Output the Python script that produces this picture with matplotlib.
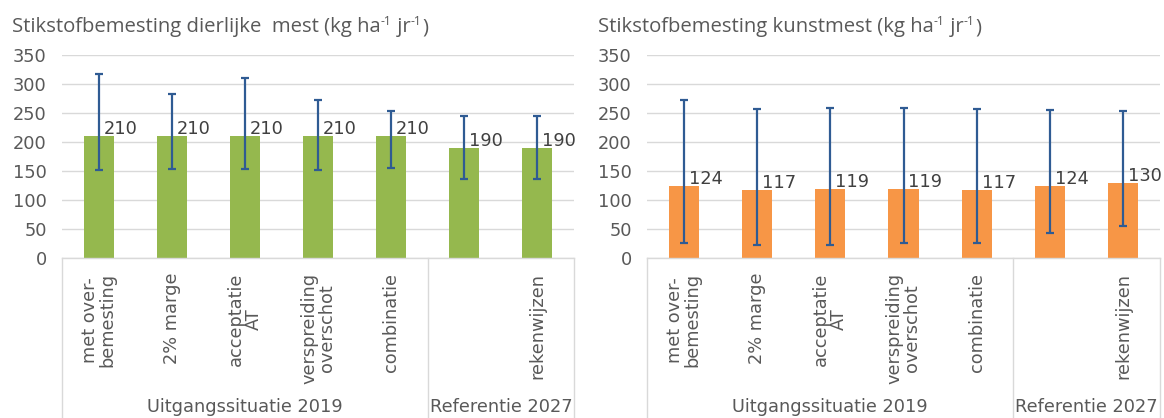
import matplotlib
matplotlib.use("Agg")
import matplotlib.pyplot as plt
from matplotlib.transforms import blended_transform_factory

# ---- data -------------------------------------------------------------
categories = ["met over-\nbemesting", "2% marge", "acceptatie\nAT",
              "verspreiding\noverschot", "combinatie", "", "rekenwijzen"]
groups = ["Uitgangssituatie 2019", "Referentie 2027"]
group_spans = [(0, 4), (5, 6)]

manure_values = [210, 210, 210, 210, 210, 190, 190]
manure_low = [151, 153, 153, 151, 155, 136, 136]
manure_high = [317, 282, 310, 272, 253, 244, 244]

fert_values = [124, 117, 119, 119, 117, 124, 130]
fert_low = [26, 23, 23, 26, 26, 43, 55]
fert_high = [272, 257, 259, 259, 257, 256, 253]

y_ticks = [0, 50, 100, 150, 200, 250, 300, 350]

# title pieces: (text, is_superscript)
title_manure = [("Stikstofbemesting dierlijke  mest (kg ha", False), ("-1", True),
                (" jr", False), ("-1", True), (")", False)]
title_fert = [("Stikstofbemesting kunstmest (kg ha", False), ("-1", True),
              (" jr", False), ("-1", True), (")", False)]

# ---- style ------------------------------------------------------------
TEXT = "#595959"
GRID = "#D9D9D9"
ERR = "#2F5B93"
GREEN = "#95B84E"
ORANGE = "#F79646"
FS = 12.8
TITLE_FS = 14.6
TITLE_FAMILY = ["Open Sans", "DejaVu Sans"]

W, H = 1164, 418
fig = plt.figure(figsize=(W / 100, H / 100), dpi=100)
renderer = fig.canvas.get_renderer()


def px_rect(x0, x1, y_top, y_bot):
    return [x0 / W, (H - y_bot) / H, (x1 - x0) / W, (y_bot - y_top) / H]


def draw_title(pieces, x_px, base_px):
    """Write a title made of normal and superscript pieces, left to right."""
    x = x_px
    for txt, sup in pieces:
        size = TITLE_FS * 0.6 if sup else TITLE_FS
        dy = 7 if sup else 0
        t = fig.text(x / W, (H - base_px + dy) / H, txt, ha="left",
                     va="baseline", fontsize=size, color=TEXT,
                     family=TITLE_FAMILY)
        bb = t.get_window_extent(renderer=renderer)
        x += bb.width + (0.5 if sup else 0.0)


def draw_panel(rect, values, low, high, color):
    ax = fig.add_axes(rect)
    x = list(range(len(values)))
    yerr = [[v - lo for v, lo in zip(values, low)],
            [hi - v for v, hi in zip(values, high)]]
    ax.bar(x, values, width=0.41, color=color, zorder=2)
    ax.errorbar(x, values, yerr=yerr, fmt="none", ecolor=ERR,
                elinewidth=1.6, capsize=2.6, capthick=1.6, zorder=3)
    ax.set_xlim(-0.5, len(values) - 0.5)
    ax.set_ylim(0, 350)
    ax.set_yticks(y_ticks)
    ax.yaxis.grid(True, color=GRID, linewidth=1.0, zorder=0)
    ax.set_axisbelow(True)
    for s in ["top", "right", "left"]:
        ax.spines[s].set_visible(False)
    ax.spines["bottom"].set_color(GRID)
    ax.spines["bottom"].set_linewidth(1.0)
    ax.tick_params(axis="y", length=0, pad=11, labelsize=FS, labelcolor=TEXT)
    ax.tick_params(axis="x", length=0)
    ax.set_xticks([])

    # value labels next to the error bar
    for xi, v in zip(x, values):
        ax.annotate(str(v), xy=(xi, v), xytext=(3.5, 1.5),
                    textcoords="offset points", ha="left", va="baseline",
                    fontsize=FS, color="#404040", zorder=4,
                    annotation_clip=False)

    # category labels (rotated)
    tr = blended_transform_factory(ax.transData, ax.transAxes)
    for xi, lab in zip(x, categories):
        if lab:
            ax.annotate(lab, xy=(xi, 0), xycoords=tr, xytext=(0, -10.5),
                        textcoords="offset points", rotation=90,
                        ha="center", va="top", multialignment="center",
                        fontsize=FS, color=TEXT, linespacing=1.0)

    # group separators and group labels
    for xs in [-0.5, 4.5, 6.5]:
        ax.plot([xs, xs], [0, -1.0], transform=tr, color=GRID,
                linewidth=1.0, clip_on=False)
    for name, (a, b) in zip(groups, group_spans):
        ax.annotate(name, xy=((a + b) / 2, 0), xycoords=tr,
                    xytext=(0, -100.5), textcoords="offset points",
                    ha="center", va="top", fontsize=FS, color=TEXT)
    return ax


draw_panel(px_rect(62, 574, 55, 258), manure_values, manure_low,
           manure_high, GREEN)
draw_panel(px_rect(647, 1160, 55, 258), fert_values, fert_low,
           fert_high, ORANGE)
draw_title(title_manure, 12, 32)
draw_title(title_fert, 598, 32)

fig.savefig("out.png", dpi=100, facecolor="white")
